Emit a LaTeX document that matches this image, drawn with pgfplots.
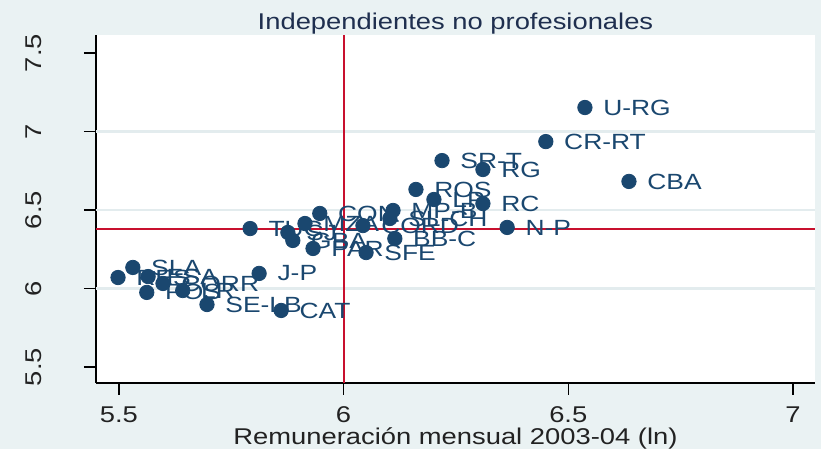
\documentclass[border=0pt]{standalone}
\usepackage{fontspec}
\setmainfont[FakeStretch=1.2]{Liberation Sans}
\usepackage{pgfplots}
\pgfplotsset{compat=1.18}
\definecolor{bgc}{HTML}{EAF2F3}
\definecolor{gridc}{HTML}{E3ECEE}
\definecolor{navy}{HTML}{1A476F}
\definecolor{redl}{HTML}{C8102E}
\definecolor{ttl}{HTML}{1F2F4F}
\definecolor{tickc}{HTML}{222222}
\pgfplotstableread{
x y label
6.537 7.153 U-RG
6.450 6.936 CR-RT
6.635 6.682 CBA
6.219 6.815 SR-T
6.310 6.758 RG
6.161 6.631 ROS
6.201 6.567 LP
6.310 6.541 RC
5.947 6.478 CON
6.110 6.497 MP-B
6.364 6.389 N-P
6.043 6.401 CORD
6.103 6.446 SL-CH
6.114 6.318 BB-C
6.050 6.229 SFE
5.932 6.255 PAR
5.792 6.382 TUC
5.876 6.357 SJ
5.914 6.414 MZA
5.887 6.306 GBA
5.812 6.096 J-P
5.531 6.134 SLA
5.498 6.070 RES
5.565 6.076 FSA
5.598 6.032 CORR
5.562 5.975 POS
5.642 5.987 LR
5.696 5.898 SE-LB
5.861 5.860 CAT
}\pts
\begin{document}
\begin{tikzpicture}
\fill[bgc] (0,0) rectangle (410.5pt,224.5pt);
\begin{axis}[
 at={(48pt,33pt)}, anchor=south west,
 width=359.5pt, height=174pt, scale only axis,
 xmin=5.449, xmax=7.049, ymin=5.398, ymax=7.615,
 axis x line*=bottom, axis y line*=left,
 axis line style={-, black, line width=0.7pt},
 axis background/.style={fill=white},
 xtick={5.5,6,6.5,7}, ytick={5.5,6,6.5,7,7.5},
 xticklabels={5.5,6,6.5,7}, yticklabels={5.5,6,6.5,7,7.5},
 tick align=outside, major tick length=6pt,
 tick style={black, line width=0.7pt},
 xticklabel style={font=\fontsize{11.4}{12}\selectfont, text=tickc, anchor=base, yshift=-14pt},
 yticklabel style={font=\fontsize{11.4}{12}\selectfont, text=tickc, anchor=base, xshift=-21pt, rotate=90},
 extra y ticks={6,6.5,7}, extra y tick labels={},
 extra y tick style={grid=major, major grid style={gridc, line width=1.2pt}, major tick length=0pt},
 title={Independientes no profesionales},
 title style={font=\fontsize{11.4}{12}\selectfont, text=ttl, anchor=base, at={(axis description cs:0.5,1)}, yshift=-3.5pt},
 xlabel={Remuneración mensual 2003-04 (ln)},
 xlabel style={font=\fontsize{11.4}{12}\selectfont, text=tickc, anchor=base, at={(axis description cs:0.5,0)}, yshift=-31pt},
]
\addplot[redl, line width=1pt, forget plot] coordinates {(6,5.398) (6,7.615)};
\addplot[redl, line width=1pt, forget plot] coordinates {(5.449,6.382) (7.049,6.382)};
\addplot[only marks, mark=*, mark size=3.6pt, mark options={fill=navy, draw=navy},
 nodes near coords, point meta=explicit symbolic,
 nodes near coords style={font=\fontsize{11}{12}\selectfont, text=navy, anchor=west, inner sep=0pt, xshift=9pt}]
 table[x=x, y=y, meta=label] {\pts};
\end{axis}
\pgfresetboundingbox
\useasboundingbox (0,0) rectangle (410.5pt,224.5pt);
\end{tikzpicture}
\end{document}
